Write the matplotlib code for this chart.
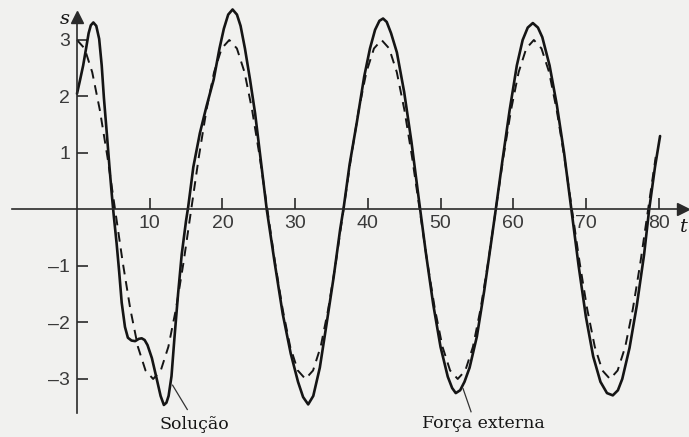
import numpy as np
import matplotlib
matplotlib.use("Agg")
import matplotlib.pyplot as plt

# Solution s(t) of the forced oscillator
t_sol = [0.0, 0.4, 0.85, 1.25, 1.6, 1.9, 2.25, 2.65, 3.05, 3.4, 3.7, 4.1, 4.45, 4.75,
         5.05, 5.45, 5.8, 6.15, 6.6, 7.0, 7.5, 8.0, 8.5, 8.9, 9.3, 9.7, 10.3, 10.95,
         11.5, 11.95, 12.3, 12.6, 13.0, 13.4, 13.9, 14.4, 15.0, 15.3, 16.0, 16.9,
         17.8, 18.8, 19.6, 20.2, 20.8, 21.4, 22.0, 22.5, 23.1, 23.8, 24.5, 25.3,
         26.1, 27.2, 28.3, 29.4, 30.4, 31.1, 31.8, 32.5, 33.4, 34.3, 35.3, 36.2,
         36.7, 37.5, 38.5, 39.5, 40.3, 41.0, 41.6, 42.1, 42.6, 43.2, 44.0, 45.0,
         46.0, 47.0, 48.0, 49.0, 50.0, 51.0, 51.6, 52.1, 52.7, 53.3, 54.0, 55.0,
         56.0, 57.0, 57.6, 58.5, 59.5, 60.5, 61.3, 62.0, 62.7, 63.4, 64.0, 65.0,
         66.0, 67.0, 68.0, 69.0, 70.0, 71.0, 72.0, 72.9, 73.7, 74.4, 75.0, 76.0,
         77.0, 78.0, 78.7, 79.5, 80.2]
s_sol = [2.05, 2.28, 2.55, 2.85, 3.12, 3.26, 3.31, 3.25, 3.02, 2.55, 1.98, 1.35, 0.78, 0.32,
         -0.1, -0.6, -1.1, -1.65, -2.08, -2.27, -2.32, -2.33, -2.29, -2.28, -2.31, -2.4, -2.63, -2.99,
         -3.3, -3.46, -3.42, -3.3, -2.95, -2.28, -1.5, -0.8, -0.2, 0.05, 0.75, 1.35,
         1.82, 2.3, 2.85, 3.2, 3.45, 3.54, 3.45, 3.25, 2.85, 2.3, 1.7, 0.85,
         0.0, -0.95, -1.85, -2.55, -3.05, -3.32, -3.45, -3.3, -2.8, -2.05, -1.2, -0.35,
         0.05, 0.8, 1.55, 2.35, 2.85, 3.18, 3.34, 3.38, 3.32, 3.12, 2.78, 2.08,
         1.2, 0.2, -0.78, -1.68, -2.43, -2.96, -3.16, -3.25, -3.2, -3.05, -2.8, -2.25,
         -1.45, -0.55, 0.0, 0.85, 1.75, 2.55, 3.0, 3.22, 3.3, 3.22, 3.05, 2.55,
         1.85, 1.0, 0.0, -1.0, -1.9, -2.6, -3.05, -3.25, -3.29, -3.2, -3.0, -2.45,
         -1.7, -0.8, 0.0, 0.75, 1.3]

# External force, sampled on a uniform time grid
t_force = np.linspace(0.0, 79.6, 77)
s_force = [3.0, 2.85, 2.43, 1.76, 0.93, 0.0, -0.93, -1.76, -2.43, -2.85,
           -3.0, -2.85, -2.43, -1.76, -0.93, 0.0, 0.93, 1.76, 2.43, 2.85,
           3.0, 2.85, 2.43, 1.76, 0.93, 0.0, -0.93, -1.76, -2.43, -2.85,
           -3.0, -2.85, -2.43, -1.76, -0.93, 0.0, 0.93, 1.76, 2.43, 2.85,
           3.0, 2.85, 2.43, 1.76, 0.93, 0.0, -0.93, -1.76, -2.43, -2.85,
           -3.0, -2.85, -2.43, -1.76, -0.93, 0.0, 0.93, 1.76, 2.43, 2.85,
           3.0, 2.85, 2.43, 1.76, 0.93, 0.0, -0.93, -1.76, -2.43, -2.85,
           -3.0, -2.85, -2.43, -1.76, -0.93, 0.0, 0.93]

x_ticks = [10, 20, 30, 40, 50, 60, 70, 80]
y_ticks = [-3, -2, -1, 1, 2, 3]
y_tick_labels = ["\u20133", "\u20132", "\u20131", "1", "2", "3"]

ink = "#151515"
axis_col = "#2a2a2a"
label_col = "#3a3a3a"

fig = plt.figure(figsize=(6.89, 4.37), dpi=100)
fig.patch.set_facecolor("#f1f1ef")
ax = fig.add_axes([0, 0, 1, 1])
ax.set_facecolor("#f1f1ef")
ax.set_xlim(-10.59, 84.18)
ax.set_ylim(-4.027, 3.708)

# axes through the origin
for side in ("top", "right"):
    ax.spines[side].set_visible(False)
ax.spines["left"].set_position(("data", 0))
ax.spines["bottom"].set_position(("data", 0))
ax.spines["left"].set_bounds(-3.6, 3.35)
ax.spines["bottom"].set_bounds(-9.0, 83.0)
for side in ("left", "bottom"):
    ax.spines[side].set_color(axis_col)
    ax.spines[side].set_linewidth(1.2)

ax.plot([0], [3.4], marker="^", ms=8, color=axis_col, clip_on=False)
ax.plot([83.4], [0], marker=">", ms=8, color=axis_col, clip_on=False)

ax.set_xticks(x_ticks)
ax.set_xticklabels([str(v) for v in x_ticks])
ax.set_yticks(y_ticks)
ax.set_yticklabels(y_tick_labels)
ax.tick_params(axis="x", direction="in", length=8, width=1.2, color=axis_col,
               pad=4, labelsize=14, labelcolor=label_col)
ax.tick_params(axis="y", direction="in", length=8, width=1.2, color=axis_col,
               pad=5, labelsize=14, labelcolor=label_col)
for lab in ax.get_xticklabels() + ax.get_yticklabels():
    lab.set_family("Liberation Sans")

# curves
ax.plot(t_force, s_force, color=ink, lw=1.4, ls=(0, (5, 3.5)))
ax.plot(t_sol, s_sol, color=ink, lw=1.9, solid_capstyle="round")

# axis names
ax.text(-1.7, 3.38, "s", family="DejaVu Serif", style="italic", fontsize=14,
        color=ink, ha="center", va="center")
ax.text(84.05, -0.31, "t", family="DejaVu Serif", style="italic", fontsize=14,
        color=ink, ha="right", va="center")

# callouts
ax.plot([13.15, 15.17], [-3.11, -3.54], color="#333333", lw=0.9)
ax.text(16.2, -3.8, "Solução", family="DejaVu Serif", fontsize=12.5,
        color=ink, ha="center", va="center")
ax.plot([53.1, 54.2], [-3.17, -3.58], color="#333333", lw=0.9)
ax.text(55.9, -3.79, "Força externa", family="DejaVu Serif", fontsize=12.5,
        color=ink, ha="center", va="center")

fig.savefig("out.png", dpi=100, facecolor=fig.get_facecolor())
